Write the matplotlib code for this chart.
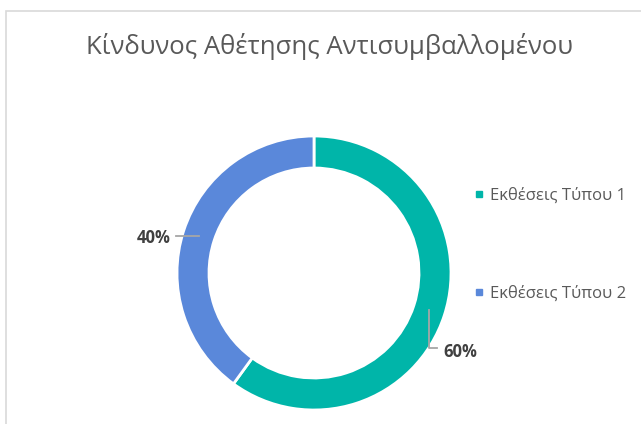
import numpy as np
import matplotlib
matplotlib.use("Agg")
import matplotlib.pyplot as plt
from matplotlib.lines import Line2D
from matplotlib.patches import Rectangle

plt.rcParams['font.family'] = ['Open Sans', 'DejaVu Sans']

title = "Κίνδυνος Αθέτησης Αντισυμβαλλομένου"
categories = ["Εκθέσεις Τύπου 1", "Εκθέσεις Τύπου 2"]
values = [60, 40]
colors = ["#00B5A9", "#5A88DA"]

W, H = 641, 424
fig = plt.figure(figsize=(W / 100, H / 100), dpi=100)
fig.patch.set_facecolor("white")

# chart frame
fig.add_artist(Rectangle((6 / W, -0.1), 1.2, 1 - 11 / H + 0.1, transform=fig.transFigure,
                         fill=False, edgecolor="#D9D9D9", linewidth=1.2))

ax = fig.add_axes([0, 0, 1, 1])
cx, cy, R, width = 314, H - 273, 137, 32
wedges, _ = ax.pie(values, colors=colors, startangle=90, counterclock=False,
                   center=(cx, cy), radius=R,
                   wedgeprops=dict(width=width, edgecolor="white", linewidth=2))
ax.set_xlim(0, W)
ax.set_ylim(0, H)
ax.axis("off")

# data labels with leader lines
total = sum(values)
mid_r = R - width / 2
for w, v in zip(wedges, values):
    ang = np.deg2rad((w.theta1 + w.theta2) / 2)
    px, py = cx + mid_r * np.cos(ang), cy + mid_r * np.sin(ang)
    lab = f"{v / total * 100:.0f}%"
    if np.cos(ang) < 0:
        ax.plot([px, px - 23], [py, py], color="#A6A6A6", lw=1.3)
        ax.text(px - 28, py - 2, lab, ha="right", va="center", fontsize=12,
                fontweight="bold", color="#404040")
    else:
        ax.plot([px, px, px + 8], [py, py - 38, py - 38], color="#A6A6A6", lw=1.3)
        ax.text(px + 14, py - 42, lab, ha="left", va="center", fontsize=12,
                fontweight="bold", color="#404040")

fig.text(329 / W, 1 - 47 / H, title, ha="center", va="center", fontsize=18.5,
         color="#595959")

handles = [Line2D([0], [0], marker="s", linestyle="none", markersize=5,
                  markerfacecolor=c, markeredgecolor=c) for c in colors]
leg = fig.legend(handles, categories, loc="upper left",
                 bbox_to_anchor=(466 / W, 1 - 179 / H), frameon=False,
                 fontsize=12, labelcolor="#595959", handlelength=0.6,
                 handletextpad=0.35, labelspacing=4.95, borderpad=0)

fig.savefig("out.png", dpi=100, facecolor="white")
